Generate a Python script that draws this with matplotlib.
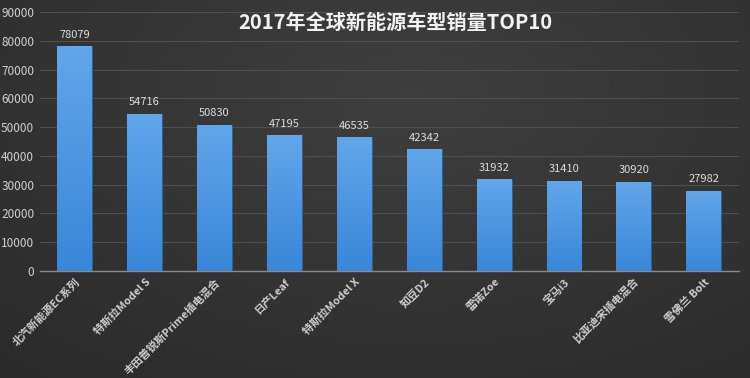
import matplotlib
matplotlib.use("Agg")
import matplotlib.pyplot as plt
import numpy as np
from matplotlib.colors import LinearSegmentedColormap

plt.rcParams['font.family'] = ['Noto Sans CJK SC', 'DejaVu Sans']

models = ["北汽新能源EC系列", "特斯拉Model S", "丰田普锐斯Prime插电混合", "日产Leaf",
          "特斯拉Model X", "知豆D2", "雷诺Zoe", "宝马i3", "比亚迪宋插电混合", "雪佛兰 Bolt"]
sales = [78079, 54716, 50830, 47195, 46535, 42342, 31932, 31410, 30920, 27982]
y_ticks = list(range(0, 90001, 10000))

fig = plt.figure(figsize=(7.5, 3.78), dpi=100)

# dark gradient background
bg = fig.add_axes([0, 0, 1, 1], zorder=-10)
yy, xx = np.mgrid[0:1:200j, 0:1:400j]
shade = 0.245 - 0.08 * np.sqrt(((xx - 0.55) * 1.2) ** 2 + (yy - 0.25) ** 2)
bg.imshow(np.dstack([shade, shade, shade]).clip(0, 1), extent=[0, 1, 0, 1],
          aspect='auto', origin='upper')
bg.axis('off')

ax = fig.add_axes([0.053, 0.283, 0.932, 0.685])
ax.set_facecolor('none')

x = np.arange(len(models))
bars = ax.bar(x, sales, width=0.5, color='#4e95df', edgecolor='#2f5f90',
              linewidth=0.6, zorder=3)
# vertical gradient on each bar
grad = np.linspace(0, 1, 100).reshape(-1, 1)
cmap = LinearSegmentedColormap.from_list('b', ['#3a86d8', '#62a6ea'])
for b in bars:
    bx, by = b.get_x(), b.get_y()
    w, h = b.get_width(), b.get_height()
    im = ax.imshow(grad, extent=[bx, bx + w, by, by + h], origin='lower',
                   cmap=cmap, aspect='auto', zorder=3)
    im.set_clip_path(b)

for xi, v in zip(x, sales):
    ax.text(xi, v + 2300, str(v), ha='center', va='bottom', fontsize=8,
            color='#dddddd', zorder=4)

ax.set_xlim(-0.5, len(models) - 0.5)
ax.set_ylim(0, 90000)
ax.set_yticks(y_ticks)
ax.set_yticklabels([str(t) for t in y_ticks], fontsize=8.5, color='#d0d0d0')
ax.yaxis.grid(True, color='#505050', linewidth=0.8, zorder=0)
ax.set_xticks(x)
ax.set_xticklabels(models, rotation=45, ha='right', rotation_mode='anchor',
                   fontsize=7.8, color='#cfcfcf', fontweight='bold')
ax.tick_params(length=0, pad=4)
for s in ['top', 'right', 'left']:
    ax.spines[s].set_visible(False)
ax.spines['bottom'].set_color('#8a8a8a')
ax.spines['bottom'].set_linewidth(1.0)

fig.text(0.527, 0.94, "2017年全球新能源车型销量TOP10", ha='center', va='center',
         fontsize=14.5, fontweight='bold', color='#f2f2f2')

fig.savefig("out.png", dpi=100)
